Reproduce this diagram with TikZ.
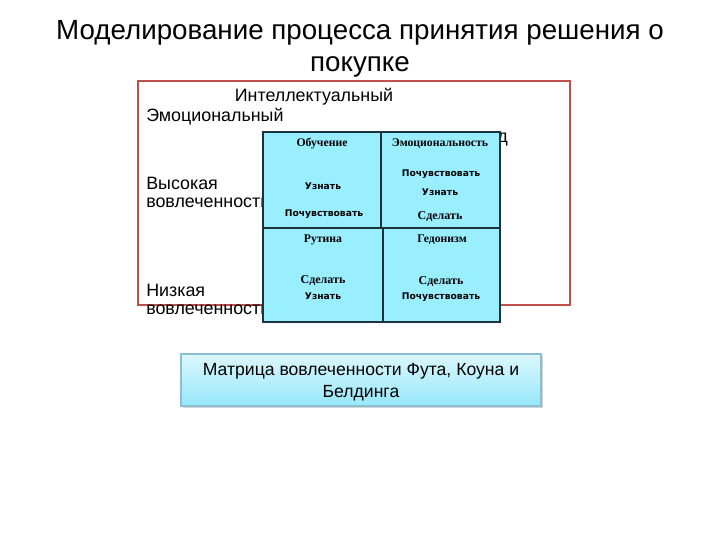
\documentclass[tikz,border=0pt]{standalone}
\usepackage{fontspec}
\setmainfont{Liberation Sans}
\newfontfamily\tserif{Liberation Serif}
\newfontfamily\vsans{DejaVu Sans}
\usetikzlibrary{shadows}
\definecolor{boxred}{RGB}{192,80,77}
\definecolor{cellfill}{RGB}{153,238,255}
\definecolor{celline}{RGB}{30,50,60}
\definecolor{gradtop}{RGB}{220,247,253}
\definecolor{gradbot}{RGB}{150,232,250}
\definecolor{capborder}{RGB}{140,190,210}
\begin{document}
\begin{tikzpicture}[x=0.75pt,y=-0.75pt,
  lbl/.style={font=\fontsize{13.4}{15}\selectfont, inner sep=0pt},
  cell/.style={draw=celline, fill=cellfill, line width=0.8pt},
  hd/.style={font=\tserif\bfseries\fontsize{8.8}{10}\selectfont, inner sep=0pt},
  sv/.style={font=\vsans\bfseries\fontsize{6.9}{8}\selectfont, inner sep=0pt},
  sr/.style={font=\tserif\bfseries\fontsize{9}{10}\selectfont, inner sep=0pt}]
\useasboundingbox (0,0) rectangle (720,540);
% title
\node[font=\fontsize{20.8}{24}\selectfont, align=center] (title) at (360,49) {Моделирование процесса принятия решения о\\покупке};
% red frame
\draw[boxred, line width=1.5pt] (138,81) rectangle (570,305);
\node (frame) at (354,193) {};
% texts
\node[lbl] (intel) at (314,97) {Интеллектуальный};
\node[lbl, anchor=west] (emo) at (146,117) {Эмоциональный};
\node[lbl, anchor=west] (dfrag) at (497,140) {д};
\node[lbl, anchor=west] (high1) at (146,183) {Высокая};
\node[lbl, anchor=west] (high2) at (146,203) {вовлеченность};
\node[lbl, anchor=west] (low1) at (146,290) {Низкая};
\node[lbl, anchor=west] (low2) at (146,310) {вовлеченность};
% table cells
\path[cell] (263,132) rectangle (381,228);
\path[cell] (381,132) rectangle (500,228);
\path[cell] (263,228) rectangle (383,322);
\path[cell] (383,228) rectangle (500,322);
\coordinate (ml) at (263,228);
\coordinate (mr) at (500,228);
\draw[celline, line width=2pt] (ml) -- (mr);
% cell texts
\node[hd] (h1) at (322,144) {Обучение};
\node[hd] (h2) at (440,144) {Эмоциональность};
\node[sv] (a1) at (323,186) {Узнать};
\node[sv] (a2) at (324,214) {Почувствовать};
\node[sv] (b1) at (441,174) {Почувствовать};
\node[sv] (b2) at (440,192) {Узнать};
\node[sr] (b3) at (440,217) {Сделать};
\node[hd] (h3) at (323,240) {Рутина};
\node[hd] (h4) at (442,240) {Гедонизм};
\node[sr] (c1) at (323,281) {Сделать};
\node[sv] (c2) at (323,296) {Узнать};
\node[sr] (d1) at (441,282) {Сделать};
\node[sv] (d2) at (441,297) {Почувствовать};
% caption box
\shade[top color=gradtop, bottom color=gradbot, drop shadow={opacity=0.35, shadow xshift=1.5pt, shadow yshift=-1.5pt}] (181,354) rectangle (541,406);
\draw[capborder, line width=0.8pt] (181,354) rectangle (541,406);
\node[font=\fontsize{13.2}{16.5}\selectfont, align=center] (cap) at (361,382) {Матрица вовлеченности Фута, Коуна и\\Белдинга};
\end{tikzpicture}
\end{document}
